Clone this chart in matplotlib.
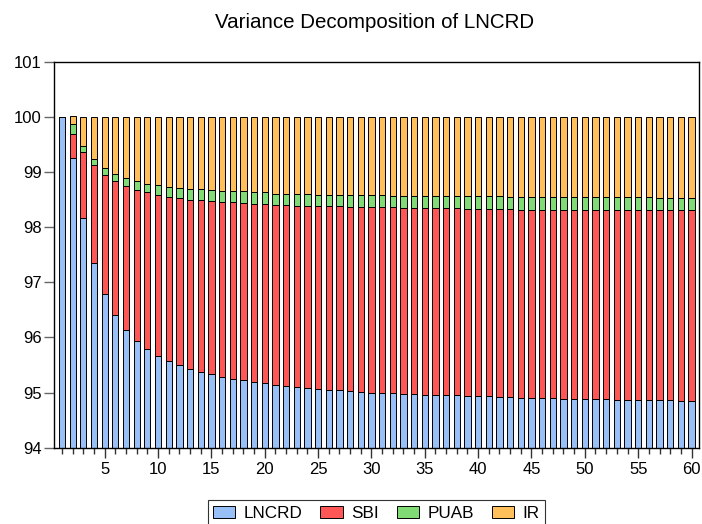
import numpy as np
import matplotlib.pyplot as plt
from matplotlib.ticker import MultipleLocator

plt.rcParams['font.family'] = ['Liberation Sans', 'DejaVu Sans']

# Periodos 1..60
periodo = np.arange(1, 61)

# Parcelas da decomposicao de variancia (%)
lncrd = [100.00, 99.26, 98.16, 97.35, 96.79, 96.41, 96.13, 95.94, 95.79, 95.67,
         95.57, 95.50, 95.43, 95.38, 95.33, 95.29, 95.25, 95.22, 95.19, 95.17,
         95.14, 95.12, 95.10, 95.08, 95.06, 95.05, 95.04, 95.02, 95.01, 95.00,
         94.99, 94.99, 94.98, 94.97, 94.96, 94.96, 94.95, 94.95, 94.94, 94.93,
         94.93, 94.92, 94.92, 94.91, 94.91, 94.90, 94.90, 94.89, 94.89, 94.89,
         94.88, 94.88, 94.87, 94.87, 94.87, 94.86, 94.86, 94.86, 94.85, 94.85]
sbi = [0.00, 0.43, 1.20, 1.77, 2.16, 2.42, 2.61, 2.74, 2.84, 2.92,
       2.98, 3.03, 3.07, 3.11, 3.14, 3.17, 3.20, 3.22, 3.24, 3.25,
       3.27, 3.28, 3.29, 3.31, 3.33, 3.33, 3.34, 3.35, 3.36, 3.37,
       3.37, 3.37, 3.37, 3.38, 3.39, 3.38, 3.39, 3.39, 3.39, 3.40,
       3.40, 3.41, 3.41, 3.41, 3.41, 3.42, 3.42, 3.43, 3.43, 3.43,
       3.43, 3.43, 3.44, 3.44, 3.44, 3.45, 3.45, 3.45, 3.46, 3.46]
puab = [0.00, 0.19, 0.11, 0.11, 0.13, 0.13, 0.16, 0.16, 0.16, 0.17,
        0.18, 0.19, 0.20, 0.20, 0.20, 0.20, 0.20, 0.21, 0.21, 0.21,
        0.20, 0.21, 0.21, 0.21, 0.20, 0.21, 0.21, 0.21, 0.21, 0.21,
        0.22, 0.21, 0.22, 0.22, 0.22, 0.23, 0.22, 0.22, 0.23, 0.23,
        0.23, 0.23, 0.22, 0.23, 0.23, 0.23, 0.23, 0.23, 0.23, 0.23,
        0.23, 0.23, 0.23, 0.23, 0.23, 0.23, 0.22, 0.22, 0.22, 0.22]
ir = [0.00, 0.13, 0.53, 0.77, 0.92, 1.04, 1.10, 1.16, 1.21, 1.24,
      1.27, 1.28, 1.30, 1.31, 1.33, 1.34, 1.35, 1.35, 1.36, 1.37,
      1.39, 1.39, 1.40, 1.40, 1.41, 1.41, 1.41, 1.42, 1.42, 1.42,
      1.42, 1.43, 1.43, 1.43, 1.43, 1.43, 1.44, 1.44, 1.44, 1.44,
      1.44, 1.44, 1.45, 1.45, 1.45, 1.45, 1.45, 1.45, 1.45, 1.45,
      1.46, 1.46, 1.46, 1.46, 1.46, 1.46, 1.47, 1.47, 1.47, 1.47]

series = [('LNCRD', lncrd, '#99bff7'), ('SBI', sbi, '#ff5656'),
          ('PUAB', puab, '#80db74'), ('IR', ir, '#ffbf5a')]

fig = plt.figure(figsize=(7.02, 5.24), dpi=100)
ax = fig.add_axes([0.077, 0.1456, 0.9187, 0.7364])

base = np.zeros(len(periodo))
for nome, vals, cor in series:
    vals = np.array(vals)
    ax.bar(periodo, vals, width=0.58, bottom=base, color=cor,
           edgecolor='black', linewidth=0.7, label=nome)
    base = base + vals

ax.set_xlim(0.25, 60.7)
ax.set_ylim(94, 101)
ax.yaxis.set_major_locator(MultipleLocator(1))
ax.xaxis.set_major_locator(MultipleLocator(5))
ax.xaxis.set_minor_locator(MultipleLocator(1))
ax.tick_params(axis='y', direction='out', length=7, width=1, color='#666666',
               labelsize=12, pad=2)
ax.tick_params(axis='x', which='major', direction='out', length=7, width=1,
               color='#333333', labelsize=12, pad=3)
ax.tick_params(axis='x', which='minor', direction='out', length=4, width=1,
               color='#333333')
for s in ax.spines.values():
    s.set_linewidth(1)

fig.text(0.534, 0.958, 'Variance Decomposition of LNCRD', ha='center',
         va='center', fontsize=14.8)

leg = fig.legend(loc='upper center', bbox_to_anchor=(0.536, 0.045), ncol=4,
                 frameon=True, fancybox=False, edgecolor='black', fontsize=12.3,
                 handlelength=1.3, handleheight=0.75, handletextpad=0.5,
                 columnspacing=1.05, borderpad=0.3, borderaxespad=0)
leg.get_frame().set_linewidth(0.8)

fig.savefig('out.png', dpi=100)
